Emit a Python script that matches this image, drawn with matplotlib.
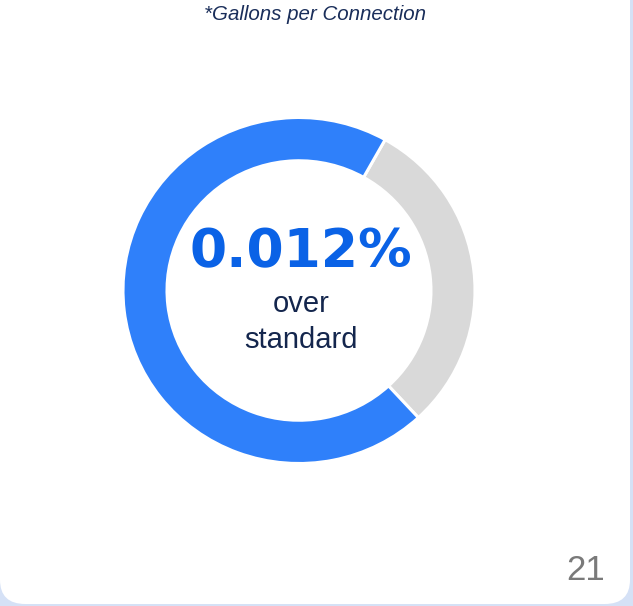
import matplotlib.pyplot as plt
from matplotlib.patches import FancyBboxPatch

# donut values (share of the ring)
labels = ['remaining', 'over']
values = [30, 70]
colors = ['#d9d9d9', '#2f80fa']

note = '*Gallons per Connection'
big_value = '0.012%'
sub_text = 'over\nstandard'
page_no = '21'

W, H = 633, 606
fig = plt.figure(figsize=(W / 100, H / 100), dpi=100, facecolor='#d5e1f6')

# white card with rounded corners
card = FancyBboxPatch((0, 2 / H), 630 / W, (H + 40) / H,
                      boxstyle='round,pad=0,rounding_size=0.04',
                      transform=fig.transFigure, facecolor='white',
                      edgecolor='none', zorder=-5)
fig.patches.append(card)

# the source is a little stretched sideways, so the ring is slightly wider than tall
cx, cy, rx, ry = 299, 290.5, 176, 173
ax = fig.add_axes([(cx - rx) / W, (H - cy - ry) / H, 2 * rx / W, 2 * ry / H])
ax.set_zorder(2)
ax.pie(values, colors=colors, startangle=60.7, counterclock=False,
       radius=1, wedgeprops=dict(width=0.25, edgecolor='white', linewidth=2.2))
ax.set_aspect('auto')
ax.set_xlim(-1, 1)
ax.set_ylim(-1, 1)
ax.axis('off')

fig.text(315 / W, 1 - 15 / H, note, ha='center', va='center', fontsize=14.8,
         style='italic', color='#1a2e5a', family='Liberation Sans', zorder=3)
fig.text(301 / W, 1 - 252 / H, big_value, ha='center', va='center', fontsize=38.5,
         fontweight='bold', color='#0a62e6', family='DejaVu Sans', zorder=3)
fig.text(301 / W, 1 - 322 / H, sub_text, ha='center', va='center', fontsize=21,
         color='#14264d', family='Liberation Sans', linespacing=1.35, zorder=3)
fig.text(586 / W, 1 - 571 / H, page_no, ha='center', va='center', fontsize=25,
         color='#7a7a7a', family='Liberation Sans', zorder=3)

fig.savefig('out.png', dpi=100, facecolor=fig.get_facecolor())
